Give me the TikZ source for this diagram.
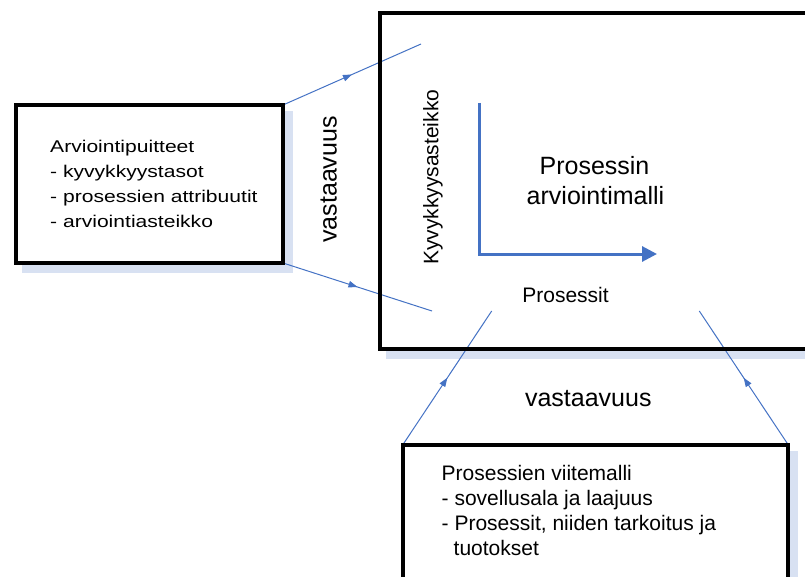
\documentclass[tikz,border=0pt]{standalone}
\usepackage{fontspec}
\setmainfont{Liberation Sans}
\newfontfamily\widefont[FakeStretch=1.24]{Liberation Sans}
\usetikzlibrary{arrows.meta,decorations.markings}
\definecolor{linkblue}{RGB}{68,114,196}
\definecolor{shadowblue}{RGB}{216,225,242}
\begin{document}
\begin{tikzpicture}[x=1pt,y=-1pt,
  boxshape/.style={rectangle, inner sep=0pt, outer sep=0pt},
  border/.style={draw=black, line width=4pt, line join=miter},
  link/.style={color=linkblue, line width=1pt, postaction={decorate},
    decoration={markings, mark=at position 0.5 with {\arrow{Triangle[length=9pt,width=6.5pt]}}}},
  axisline/.style={color=linkblue, line width=3pt, line join=miter, -{Triangle[length=15pt,width=15pt]}},
  lefttext/.style={font=\widefont\fontsize{17}{20}\selectfont, anchor=base west, inner sep=0pt},
  reftext/.style={font=\fontsize{21}{25}\selectfont, anchor=base west, inner sep=0pt},
  midtext/.style={font=\fontsize{21}{25}\selectfont, anchor=base, inner sep=0pt},
  bigtext/.style={font=\fontsize{25}{29}\selectfont, anchor=base, inner sep=0pt}]
\useasboundingbox (0,0) rectangle (805,577);
\clip (0,0) rectangle (805,577);
% box shapes
\node[boxshape, minimum width=267pt, minimum height=158pt] (inbox) at (149.5,184) {};
\node[boxshape, minimum width=460.5pt, minimum height=335.5pt] (model) at (609.75,181.25) {};
\node[boxshape, minimum width=385pt, minimum height=155.5pt] (refbox) at (595.5,522.25) {};
% shadows
\foreach \b in {inbox,model,refbox}
  \fill[shadowblue] ([shift={(6,6)}]\b.north west) rectangle ([shift={(10,10)}]\b.south east);
% white fills
\foreach \b in {inbox,model,refbox}
  \fill[white] (\b.north west) rectangle (\b.south east);
% connector ends
\coordinate (e1) at (421,44);
\coordinate (e2) at (432,311);
\coordinate (e3) at (491.7,311);
\coordinate (e4) at (699.3,311);
\draw[link] (inbox.north east) -- (e1);
\draw[link] (inbox.south east) -- (e2);
\draw[link] (refbox.north west) -- (e3);
\draw[link] (refbox.north east) -- (e4);
% borders
\foreach \b in {inbox,model,refbox}
  \draw[border] (\b.north west) rectangle (\b.south east);
% axes
\coordinate (ytop) at (479.3,103);
\coordinate (orig) at (479.3,254);
\coordinate (xtip) at (657,254);
\draw[axisline] (ytop) -- (orig) -- (xtip);
% texts
\node[lefttext] (l1) at (50,152.7) {Arviointipuitteet};
\node[lefttext] (l2) at (50,177.7) {- kyvykkyystasot};
\node[lefttext] (l3) at (50,202.7) {- prosessien attribuutit};
\node[lefttext] (l4) at (50,227.7) {- arviointiasteikko};
\node[reftext] (r1) at (441.5,480) {Prosessien viitemalli};
\node[reftext] (r2) at (441.5,505) {- sovellusala ja laajuus};
\node[reftext] (r3) at (441.5,530) {- Prosessit, niiden tarkoitus ja};
\node[reftext] (r4) at (453.5,555) {tuotokset};
\node[bigtext] (m1) at (594.5,175) {Prosessin};
\node[bigtext] (m2) at (595.5,204.3) {arviointimalli};
\node[midtext] (px) at (565.5,302.7) {Prosessit};
\node[midtext, rotate=90] (ky) at (438.3,177.3) {Kyvykkyysasteikko};
\node[bigtext, rotate=90] (va1) at (336.7,179.5) {vastaavuus};
\node[bigtext] (va2) at (588.3,406.7) {vastaavuus};
\end{tikzpicture}
\end{document}
